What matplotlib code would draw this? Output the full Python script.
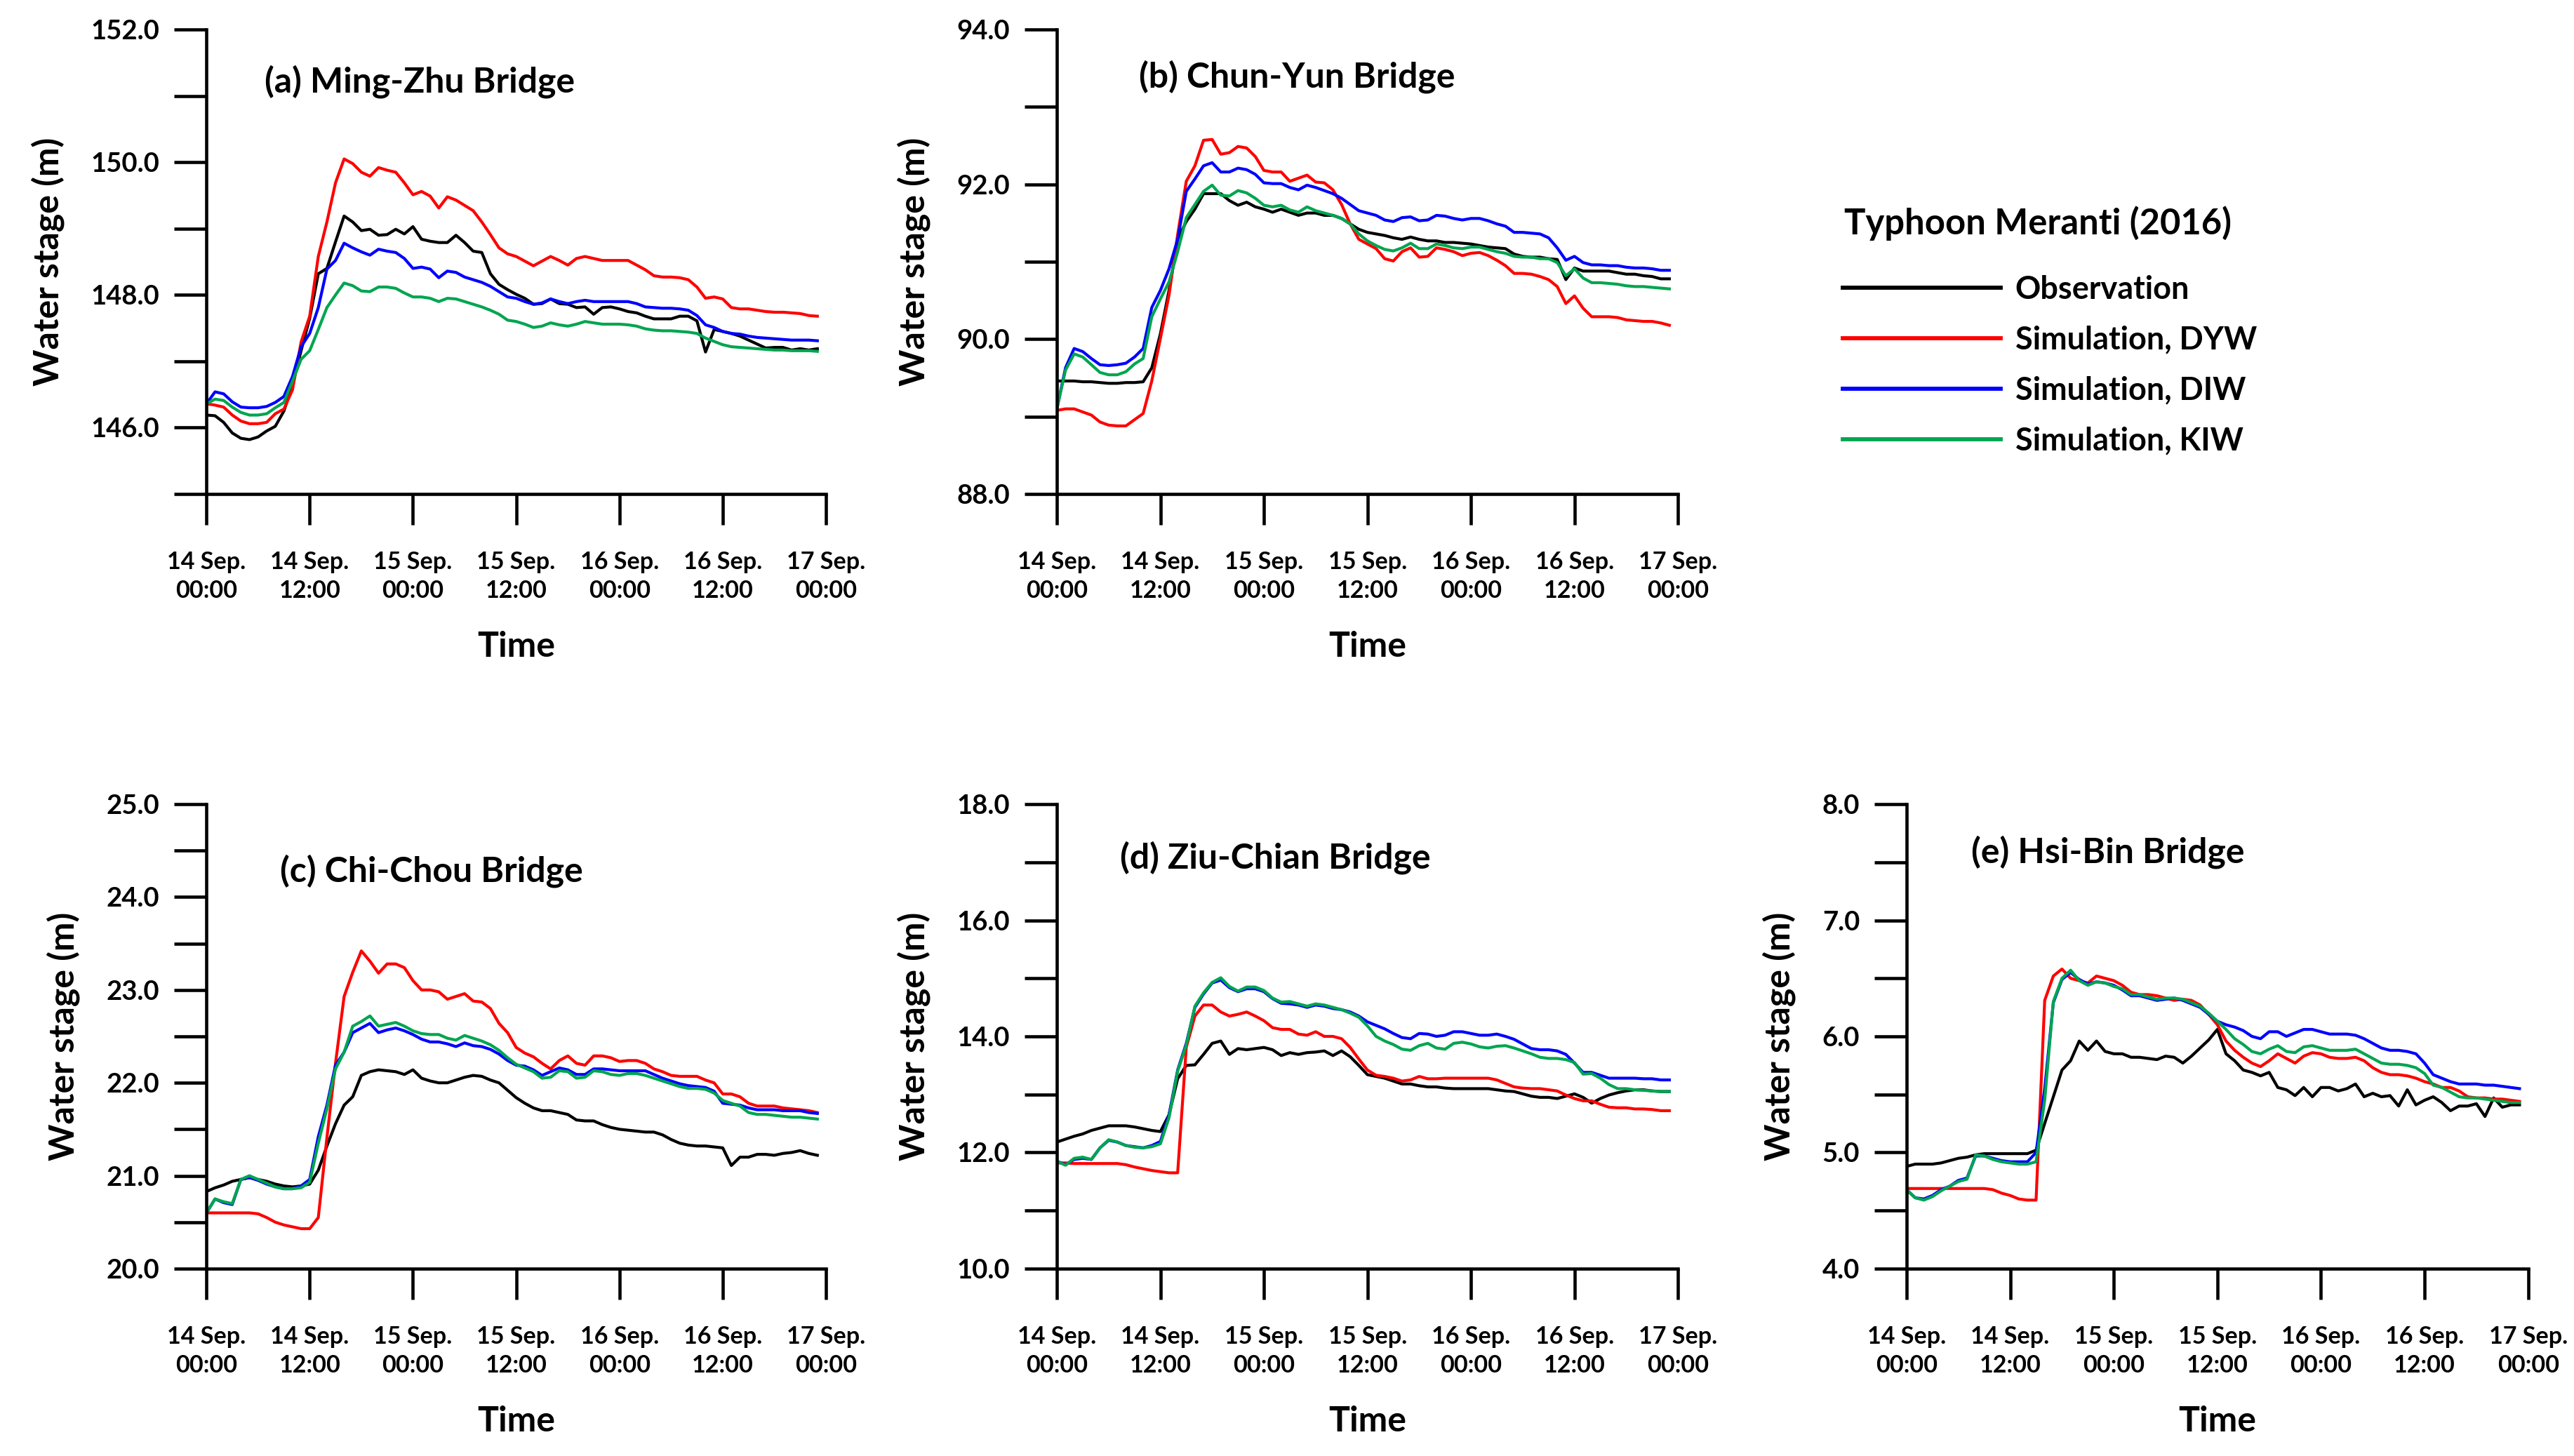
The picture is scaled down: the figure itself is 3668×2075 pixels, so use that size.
import matplotlib
matplotlib.use("Agg")
import matplotlib.pyplot as plt
import numpy as np
from matplotlib.ticker import FixedLocator, FormatStrFormatter

plt.rcParams['font.family'] = ['Lato', 'DejaVu Sans']
plt.rcParams['font.weight'] = 'bold'

# Horas desde 14 Sep. 00:00
HOURS = list(range(72))
TICK_HOURS = [0, 12, 24, 36, 48, 60, 72]
TICK_LABELS = ["14 Sep.\n00:00", "14 Sep.\n12:00", "15 Sep.\n00:00", "15 Sep.\n12:00",
               "16 Sep.\n00:00", "16 Sep.\n12:00", "17 Sep.\n00:00"]

SERIES_NAMES = ["Observation", "Simulation, DYW", "Simulation, DIW", "Simulation, KIW"]
SERIES_COLORS = ["black", "#FF0000", "#0000FF", "#00A550"]

# (a) Ming-Zhu Bridge
OBS_A = [146.19, 146.18, 146.08, 145.92, 145.84, 145.82, 145.86, 145.95, 146.02, 146.25,
         146.64, 147.16, 147.65, 148.32, 148.40, 148.80, 149.19, 149.10, 148.97, 148.99,
         148.90, 148.91, 148.99, 148.92, 149.03, 148.84, 148.81, 148.79, 148.79, 148.90,
         148.79, 148.66, 148.64, 148.32, 148.16, 148.08, 148.01, 147.95, 147.86, 147.87,
         147.94, 147.87, 147.86, 147.81, 147.82, 147.71, 147.81, 147.82, 147.79, 147.75,
         147.73, 147.68, 147.64, 147.64, 147.64, 147.68, 147.68, 147.61, 147.14, 147.48,
         147.45, 147.42, 147.38, 147.32, 147.26, 147.20, 147.21, 147.21, 147.17, 147.19,
         147.17, 147.19]
DYW_A = [146.36, 146.34, 146.31, 146.19, 146.10, 146.06, 146.06, 146.08, 146.21, 146.28,
         146.57, 147.29, 147.68, 148.58, 149.10, 149.69, 150.05, 149.98, 149.85, 149.79,
         149.92, 149.88, 149.85, 149.69, 149.51, 149.56, 149.49, 149.31, 149.48, 149.43,
         149.35, 149.27, 149.10, 148.91, 148.71, 148.62, 148.58, 148.51, 148.44, 148.51,
         148.58, 148.52, 148.45, 148.55, 148.58, 148.55, 148.52, 148.52, 148.52, 148.52,
         148.45, 148.38, 148.29, 148.27, 148.27, 148.26, 148.23, 148.12, 147.95, 147.97,
         147.94, 147.81, 147.79, 147.79, 147.77, 147.75, 147.74, 147.74, 147.73, 147.72,
         147.69, 147.68]
DIW_A = [146.36, 146.54, 146.51, 146.39, 146.31, 146.30, 146.30, 146.32, 146.38, 146.47,
         146.77, 147.22, 147.42, 147.81, 148.39, 148.52, 148.78, 148.71, 148.65, 148.60,
         148.69, 148.66, 148.64, 148.55, 148.40, 148.42, 148.39, 148.26, 148.36, 148.34,
         148.27, 148.23, 148.19, 148.13, 148.05, 147.97, 147.95, 147.90, 147.86, 147.88,
         147.94, 147.90, 147.87, 147.90, 147.92, 147.90, 147.90, 147.90, 147.90, 147.90,
         147.87, 147.82, 147.81, 147.80, 147.80, 147.79, 147.77, 147.69, 147.55, 147.51,
         147.45, 147.42, 147.41, 147.38, 147.36, 147.35, 147.34, 147.33, 147.32, 147.32,
         147.32, 147.31]
KIW_A = [146.36, 146.43, 146.41, 146.31, 146.23, 146.19, 146.19, 146.21, 146.30, 146.38,
         146.70, 147.03, 147.16, 147.48, 147.81, 148.00, 148.18, 148.14, 148.06, 148.05,
         148.12, 148.12, 148.10, 148.03, 147.97, 147.97, 147.95, 147.90, 147.95, 147.94,
         147.90, 147.86, 147.82, 147.77, 147.71, 147.62, 147.60, 147.56, 147.51, 147.53,
         147.58, 147.55, 147.53, 147.56, 147.60, 147.58, 147.56, 147.56, 147.56, 147.55,
         147.53, 147.49, 147.47, 147.46, 147.46, 147.45, 147.44, 147.42, 147.35, 147.30,
         147.25, 147.22, 147.21, 147.20, 147.19, 147.18, 147.17, 147.17, 147.16, 147.16,
         147.16, 147.15]

# (b) Chun-Yun Bridge
OBS_B = [89.46, 89.46, 89.46, 89.45, 89.45, 89.44, 89.43, 89.43, 89.44, 89.44,
         89.45, 89.63, 90.07, 90.63, 91.29, 91.52, 91.68, 91.88, 91.88, 91.88,
         91.79, 91.73, 91.77, 91.71, 91.68, 91.64, 91.68, 91.64, 91.60, 91.63,
         91.63, 91.60, 91.60, 91.56, 91.49, 91.42, 91.38, 91.36, 91.34, 91.31,
         91.29, 91.32, 91.29, 91.27, 91.27, 91.25, 91.25, 91.24, 91.23, 91.21,
         91.19, 91.18, 91.17, 91.10, 91.07, 91.06, 91.06, 91.04, 91.03, 90.77,
         90.92, 90.88, 90.88, 90.88, 90.88, 90.86, 90.84, 90.84, 90.82, 90.81,
         90.78, 90.78]
DYW_B = [89.08, 89.10, 89.10, 89.06, 89.02, 88.93, 88.89, 88.88, 88.88, 88.96,
         89.04, 89.46, 90.01, 90.57, 91.35, 92.04, 92.24, 92.57, 92.58, 92.39,
         92.41, 92.49, 92.47, 92.36, 92.18, 92.16, 92.16, 92.04, 92.08, 92.12,
         92.03, 92.02, 91.93, 91.74, 91.49, 91.29, 91.23, 91.17, 91.04, 91.01,
         91.13, 91.18, 91.06, 91.07, 91.18, 91.16, 91.13, 91.08, 91.11, 91.12,
         91.08, 91.02, 90.95, 90.85, 90.85, 90.84, 90.81, 90.77, 90.68, 90.46,
         90.56, 90.40, 90.29, 90.29, 90.29, 90.28, 90.25, 90.24, 90.23, 90.23,
         90.21, 90.18]
DIW_B = [89.10, 89.63, 89.88, 89.84, 89.75, 89.67, 89.66, 89.67, 89.69, 89.77,
         89.88, 90.41, 90.63, 90.91, 91.29, 91.91, 92.07, 92.24, 92.28, 92.16,
         92.16, 92.21, 92.19, 92.13, 92.02, 92.01, 92.01, 91.96, 91.93, 91.99,
         91.96, 91.92, 91.88, 91.82, 91.74, 91.66, 91.63, 91.60, 91.54, 91.52,
         91.57, 91.58, 91.53, 91.54, 91.60, 91.59, 91.56, 91.54, 91.56, 91.56,
         91.53, 91.49, 91.46, 91.38, 91.38, 91.37, 91.36, 91.31, 91.18, 91.02,
         91.07, 90.99, 90.96, 90.96, 90.95, 90.95, 90.93, 90.92, 90.92, 90.91,
         90.89, 90.89]
KIW_B = [89.10, 89.60, 89.81, 89.77, 89.67, 89.57, 89.54, 89.54, 89.58, 89.68,
         89.75, 90.29, 90.52, 90.74, 91.13, 91.57, 91.74, 91.91, 91.99, 91.86,
         91.85, 91.92, 91.89, 91.82, 91.73, 91.71, 91.73, 91.67, 91.64, 91.71,
         91.66, 91.63, 91.60, 91.56, 91.49, 91.36, 91.27, 91.21, 91.16, 91.14,
         91.18, 91.24, 91.17, 91.17, 91.23, 91.21, 91.18, 91.17, 91.19, 91.19,
         91.16, 91.13, 91.11, 91.07, 91.06, 91.06, 91.04, 91.04, 90.99, 90.82,
         90.91, 90.79, 90.73, 90.73, 90.72, 90.71, 90.69, 90.68, 90.68, 90.67,
         90.66, 90.65]

# (c) Chi-Chou Bridge
OBS_C = [20.83, 20.87, 20.90, 20.94, 20.96, 20.98, 20.96, 20.94, 20.91, 20.89,
         20.88, 20.89, 20.91, 21.06, 21.32, 21.56, 21.76, 21.85, 22.08, 22.12,
         22.14, 22.13, 22.12, 22.09, 22.14, 22.05, 22.02, 22.00, 22.00, 22.03,
         22.06, 22.08, 22.07, 22.03, 22.00, 21.92, 21.84, 21.78, 21.73, 21.70,
         21.70, 21.68, 21.66, 21.60, 21.59, 21.59, 21.55, 21.52, 21.50, 21.49,
         21.48, 21.47, 21.47, 21.44, 21.39, 21.35, 21.33, 21.32, 21.32, 21.31,
         21.30, 21.11, 21.20, 21.20, 21.23, 21.23, 21.22, 21.24, 21.25, 21.27,
         21.24, 21.22]
DYW_C = [20.60, 20.60, 20.60, 20.60, 20.60, 20.60, 20.59, 20.55, 20.50, 20.47,
         20.45, 20.43, 20.43, 20.55, 21.41, 22.21, 22.93, 23.19, 23.42, 23.31,
         23.18, 23.28, 23.28, 23.24, 23.10, 23.00, 23.00, 22.98, 22.90, 22.93,
         22.96, 22.88, 22.87, 22.80, 22.64, 22.54, 22.38, 22.32, 22.28, 22.21,
         22.15, 22.24, 22.29, 22.21, 22.19, 22.29, 22.29, 22.27, 22.23, 22.24,
         22.24, 22.21, 22.15, 22.12, 22.08, 22.07, 22.07, 22.07, 22.03, 22.00,
         21.88, 21.88, 21.85, 21.78, 21.75, 21.75, 21.75, 21.73, 21.72, 21.71,
         21.70, 21.68]
DIW_C = [20.60, 20.75, 20.71, 20.69, 20.96, 20.98, 20.95, 20.91, 20.88, 20.86,
         20.86, 20.89, 20.96, 21.42, 21.76, 22.19, 22.33, 22.54, 22.59, 22.64,
         22.54, 22.57, 22.59, 22.56, 22.52, 22.47, 22.44, 22.44, 22.42, 22.39,
         22.43, 22.40, 22.39, 22.36, 22.31, 22.24, 22.19, 22.18, 22.14, 22.08,
         22.12, 22.16, 22.14, 22.09, 22.09, 22.15, 22.15, 22.14, 22.13, 22.13,
         22.13, 22.13, 22.09, 22.05, 22.02, 21.99, 21.97, 21.96, 21.95, 21.91,
         21.78, 21.77, 21.76, 21.73, 21.71, 21.71, 21.71, 21.70, 21.70, 21.70,
         21.68, 21.67]
KIW_C = [20.60, 20.75, 20.72, 20.70, 20.96, 21.00, 20.96, 20.92, 20.88, 20.86,
         20.86, 20.87, 20.93, 21.35, 21.72, 22.15, 22.33, 22.61, 22.66, 22.72,
         22.61, 22.63, 22.65, 22.61, 22.56, 22.53, 22.52, 22.52, 22.48, 22.46,
         22.51, 22.48, 22.45, 22.41, 22.35, 22.27, 22.20, 22.16, 22.12, 22.05,
         22.06, 22.13, 22.12, 22.05, 22.06, 22.13, 22.12, 22.09, 22.08, 22.10,
         22.10, 22.08, 22.05, 22.02, 21.99, 21.96, 21.94, 21.94, 21.93, 21.89,
         21.81, 21.78, 21.75, 21.68, 21.66, 21.66, 21.65, 21.64, 21.63, 21.63,
         21.62, 21.61]

# (d) Ziu-Chian Bridge
OBS_D = [12.18, 12.23, 12.28, 12.32, 12.38, 12.42, 12.46, 12.46, 12.46, 12.44,
         12.41, 12.38, 12.36, 12.65, 13.27, 13.50, 13.51, 13.69, 13.88, 13.92,
         13.69, 13.79, 13.77, 13.79, 13.81, 13.77, 13.67, 13.72, 13.69, 13.72,
         13.73, 13.75, 13.67, 13.75, 13.65, 13.50, 13.34, 13.31, 13.28, 13.23,
         13.18, 13.18, 13.15, 13.13, 13.13, 13.11, 13.10, 13.10, 13.10, 13.10,
         13.10, 13.08, 13.06, 13.05, 13.01, 12.97, 12.95, 12.95, 12.93, 12.97,
         13.01, 12.95, 12.85, 12.93, 12.99, 13.03, 13.06, 13.08, 13.08, 13.06,
         13.05, 13.05]
DYW_D = [11.82, 11.82, 11.81, 11.81, 11.81, 11.81, 11.81, 11.81, 11.79, 11.75,
         11.72, 11.69, 11.67, 11.65, 11.65, 13.81, 14.35, 14.54, 14.54, 14.42,
         14.35, 14.38, 14.42, 14.35, 14.27, 14.15, 14.12, 14.12, 14.04, 14.02,
         14.08, 14.00, 14.00, 13.96, 13.81, 13.61, 13.42, 13.33, 13.31, 13.28,
         13.23, 13.25, 13.31, 13.27, 13.27, 13.28, 13.28, 13.28, 13.28, 13.28,
         13.28, 13.25, 13.19, 13.13, 13.11, 13.10, 13.10, 13.08, 13.06, 12.99,
         12.93, 12.89, 12.89, 12.83, 12.78, 12.77, 12.77, 12.75, 12.75, 12.74,
         12.72, 12.72]
DIW_D = [11.85, 11.79, 11.88, 11.90, 11.88, 12.08, 12.21, 12.18, 12.12, 12.10,
         12.08, 12.12, 12.19, 12.65, 13.42, 13.88, 14.50, 14.73, 14.92, 14.97,
         14.84, 14.77, 14.82, 14.82, 14.77, 14.65, 14.57, 14.56, 14.54, 14.50,
         14.54, 14.52, 14.48, 14.46, 14.42, 14.35, 14.25, 14.19, 14.13, 14.05,
         13.98, 13.96, 14.05, 14.04, 14.00, 14.02, 14.08, 14.08, 14.05, 14.02,
         14.02, 14.04, 14.00, 13.95, 13.87, 13.79, 13.77, 13.77, 13.75, 13.69,
         13.54, 13.38, 13.38, 13.33, 13.28, 13.28, 13.28, 13.28, 13.27, 13.27,
         13.25, 13.25]
KIW_D = [11.85, 11.78, 11.90, 11.92, 11.88, 12.08, 12.22, 12.18, 12.12, 12.09,
         12.08, 12.10, 12.15, 12.60, 13.40, 13.85, 14.52, 14.75, 14.93, 15.01,
         14.86, 14.78, 14.85, 14.85, 14.79, 14.66, 14.59, 14.60, 14.56, 14.52,
         14.56, 14.54, 14.50, 14.46, 14.40, 14.33, 14.18, 14.00, 13.92, 13.86,
         13.78, 13.76, 13.84, 13.88, 13.80, 13.78, 13.88, 13.90, 13.87, 13.82,
         13.80, 13.83, 13.84, 13.80, 13.75, 13.70, 13.64, 13.62, 13.62, 13.60,
         13.55, 13.35, 13.36, 13.28, 13.17, 13.10, 13.10, 13.08, 13.07, 13.06,
         13.05, 13.05]

# (e) Hsi-Bin Bridge
OBS_E = [4.88, 4.90, 4.90, 4.90, 4.91, 4.93, 4.95, 4.96, 4.98, 4.99,
         4.99, 4.99, 4.99, 4.99, 4.99, 5.02, 5.25, 5.48, 5.71, 5.79,
         5.96, 5.88, 5.96, 5.87, 5.85, 5.85, 5.82, 5.82, 5.81, 5.80,
         5.83, 5.82, 5.77, 5.83, 5.90, 5.97, 6.06, 5.85, 5.79, 5.71,
         5.69, 5.66, 5.69, 5.56, 5.54, 5.49, 5.56, 5.48, 5.56, 5.56,
         5.53, 5.55, 5.59, 5.48, 5.51, 5.48, 5.49, 5.40, 5.54, 5.41,
         5.45, 5.48, 5.43, 5.36, 5.40, 5.40, 5.42, 5.31, 5.47, 5.39,
         5.41, 5.41]
DYW_E = [4.69, 4.69, 4.69, 4.69, 4.69, 4.69, 4.69, 4.69, 4.69, 4.69,
         4.68, 4.65, 4.63, 4.60, 4.59, 4.59, 6.31, 6.52, 6.58, 6.50,
         6.48, 6.46, 6.52, 6.50, 6.48, 6.44, 6.38, 6.36, 6.36, 6.35,
         6.33, 6.31, 6.32, 6.31, 6.27, 6.19, 6.10, 5.96, 5.88, 5.82,
         5.77, 5.74, 5.79, 5.85, 5.81, 5.77, 5.83, 5.86, 5.85, 5.82,
         5.81, 5.81, 5.82, 5.79, 5.73, 5.69, 5.67, 5.67, 5.66, 5.64,
         5.61, 5.59, 5.56, 5.56, 5.53, 5.48, 5.47, 5.47, 5.46, 5.46,
         5.45, 5.44]
DIW_E = [4.68, 4.61, 4.60, 4.63, 4.68, 4.71, 4.76, 4.78, 4.97, 4.97,
         4.95, 4.93, 4.92, 4.92, 4.92, 5.00, 5.55, 6.29, 6.49, 6.55,
         6.49, 6.45, 6.47, 6.46, 6.44, 6.40, 6.35, 6.35, 6.33, 6.31,
         6.32, 6.33, 6.31, 6.28, 6.25, 6.19, 6.13, 6.10, 6.08, 6.05,
         6.00, 5.98, 6.04, 6.04, 6.00, 6.03, 6.06, 6.06, 6.04, 6.02,
         6.02, 6.02, 6.01, 5.98, 5.94, 5.90, 5.88, 5.88, 5.87, 5.85,
         5.77, 5.67, 5.64, 5.61, 5.59, 5.59, 5.59, 5.58, 5.58, 5.57,
         5.56, 5.55]
KIW_E = [4.68, 4.61, 4.59, 4.62, 4.67, 4.71, 4.75, 4.77, 4.98, 4.97,
         4.94, 4.92, 4.91, 4.90, 4.90, 4.92, 5.45, 6.30, 6.50, 6.57,
         6.48, 6.44, 6.47, 6.46, 6.43, 6.41, 6.36, 6.36, 6.34, 6.32,
         6.33, 6.33, 6.32, 6.29, 6.26, 6.20, 6.13, 6.06, 5.98, 5.93,
         5.87, 5.85, 5.89, 5.92, 5.87, 5.86, 5.91, 5.92, 5.90, 5.88,
         5.88, 5.88, 5.89, 5.85, 5.81, 5.77, 5.76, 5.76, 5.75, 5.73,
         5.68, 5.58, 5.56, 5.52, 5.48, 5.47, 5.47, 5.46, 5.45, 5.44,
         5.43, 5.43]

# Configuracion de cada panel: titulo, datos, eje y, posicion
paneles = [
    dict(titulo="(a) Ming-Zhu Bridge", datos=[OBS_A, DYW_A, DIW_A, KIW_A],
         ylim=(145, 152), major=[146, 148, 150, 152], minor=[145, 147, 149, 151],
         rect=[0.0802, 0.6607, 0.2407, 0.319], tpos=(0.094, 0.888)),
    dict(titulo="(b) Chun-Yun Bridge", datos=[OBS_B, DYW_B, DIW_B, KIW_B],
         ylim=(88, 94), major=[88, 90, 92, 94], minor=[89, 91, 93],
         rect=[0.4106, 0.6607, 0.2413, 0.319], tpos=(0.132, 0.899)),
    dict(titulo="(c) Chi-Chou Bridge", datos=[OBS_C, DYW_C, DIW_C, KIW_C],
         ylim=(20, 25), major=[20, 21, 22, 23, 24, 25], minor=[20.5, 21.5, 22.5, 23.5, 24.5],
         rect=[0.0802, 0.1287, 0.2407, 0.319], tpos=(0.119, 0.856)),
    dict(titulo="(d) Ziu-Chian Bridge", datos=[OBS_D, DYW_D, DIW_D, KIW_D],
         ylim=(10, 18), major=[10, 12, 14, 16, 18], minor=[11, 13, 15, 17],
         rect=[0.4106, 0.1287, 0.2413, 0.319], tpos=(0.102, 0.885)),
    dict(titulo="(e) Hsi-Bin Bridge", datos=[OBS_E, DYW_E, DIW_E, KIW_E],
         ylim=(4, 8), major=[4, 5, 6, 7, 8], minor=[4.5, 5.5, 6.5, 7.5],
         rect=[0.7407, 0.1287, 0.2415, 0.319], tpos=(0.104, 0.897)),
]

fig = plt.figure(figsize=(3668 / 300, 2075 / 300), dpi=300)

lineas_leyenda = None
for p in paneles:
    ax = fig.add_axes(p["rect"])
    lineas = []
    for serie, color, nombre in zip(p["datos"], SERIES_COLORS, SERIES_NAMES):
        l, = ax.plot(HOURS, serie, color=color, lw=1.0, label=nombre)
        lineas.append(l)
    if lineas_leyenda is None:
        lineas_leyenda = lineas

    ax.set_xlim(0, 72)
    ax.set_ylim(*p["ylim"])
    ax.spines['top'].set_visible(False)
    ax.spines['right'].set_visible(False)
    ax.spines['left'].set_linewidth(1.1)
    ax.spines['bottom'].set_linewidth(1.1)

    ax.set_xticks(TICK_HOURS)
    ax.set_xticklabels(TICK_LABELS, fontsize=8.2, linespacing=1.35)
    ax.yaxis.set_major_locator(FixedLocator(p["major"]))
    ax.yaxis.set_minor_locator(FixedLocator(p["minor"]))
    ax.yaxis.set_major_formatter(FormatStrFormatter('%.1f'))
    ax.tick_params(axis='x', direction='out', length=10.5, width=1.1, pad=9, labelsize=8.2)
    ax.tick_params(axis='y', which='both', direction='out', length=11, width=1.1, pad=5, labelsize=9.2)

    ax.set_ylabel("Water stage (m)", fontsize=12, fontweight='bold', labelpad=9)
    ax.set_xlabel("Time", fontsize=12, fontweight='bold')
    ax.xaxis.set_label_coords(0.5, -0.295)

    ax.text(p["tpos"][0], p["tpos"][1], p["titulo"], transform=ax.transAxes,
            ha='left', va='center', fontsize=12, fontweight='bold')

# Leyenda
fig.text(0.7916, 0.8467, "Typhoon Meranti (2016)", ha='center', va='center',
         fontsize=12.2, fontweight='bold')
leg = fig.legend(lineas_leyenda, SERIES_NAMES, loc='upper left', bbox_to_anchor=(0.716, 0.811),
                 frameon=False, fontsize=10.8, handlelength=5.0, handletextpad=0.45,
                 labelspacing=0.66, borderpad=0, borderaxespad=0)
for l in leg.get_lines():
    l.set_linewidth(1.4)

fig.savefig("out.png", dpi=300)
